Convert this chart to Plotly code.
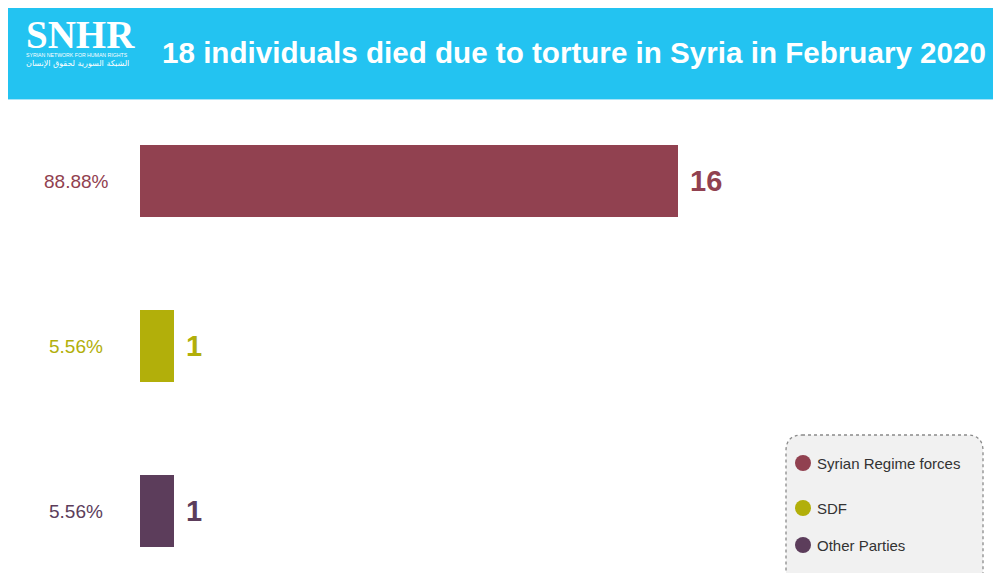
import plotly.graph_objects as go

W, H = 1001, 573
OFF = 8  # page body margin offset

categories = ["Syrian Regime forces", "SDF", "Other Parties"]
values = [16, 1, 1]
percent_labels = ["88.88%", "5.56%", "5.56%"]
colors = ["#914150", "#B2AF0A", "#5C3D5B"]
title_text = "18 individuals died due to torture in Syria in February 2020"
logo_lines = ["SNHR", "SYRIAN NETWORK FOR HUMAN RIGHTS", "الشبكة السورية لحقوق الإنسان"]

def px(x):
    return max(x - OFF, 0) / W

def py(y):
    return 1 - max(y - OFF, 0) / H

fig = go.Figure()
fig.add_trace(go.Bar(
    y=categories, x=values, orientation="h",
    marker=dict(color=colors, line=dict(width=0)),
    width=0.436, showlegend=False, hoverinfo="x+y",
))

annotations = []
for cat, v, p, c in zip(categories, values, percent_labels, colors):
    annotations.append(dict(x=v, y=cat, xref="x", yref="y", text=str(v),
                            showarrow=False, xanchor="left", xshift=10,
                            font=dict(family="Liberation Sans", size=29, color=c, weight="bold")))
    annotations.append(dict(x=px(76), y=cat, xref="paper", yref="y", text=p,
                            showarrow=False, xanchor="center",
                            font=dict(family="Liberation Sans", size=19, color=c)))

# title & logo
annotations.append(dict(x=px(160), y=py(52), xref="paper", yref="paper", text=title_text,
                        showarrow=False, xanchor="left", yanchor="middle",
                        font=dict(family="Liberation Sans", size=29.6, color="white", weight="bold")))
logo_html = (
    f"<span style='font-family:Liberation Serif;font-size:39px;font-weight:bold'>{logo_lines[0]}</span><br>"
    f"<span style='font-size:5.2px'>{logo_lines[1]}</span><br>"
    f"<span style='font-family:DejaVu Sans;font-size:8px'>{logo_lines[2]}</span>"
)
annotations.append(dict(x=px(24), y=py(71), xref="paper", yref="paper", text=logo_html,
                        showarrow=False, xanchor="left", yanchor="bottom", align="left",
                        font=dict(family="Liberation Sans", size=7, color="white")))

# legend texts
leg_y = [463, 508, 545]
for cat, c, ly in zip(categories, colors, leg_y):
    annotations.append(dict(x=px(815), y=py(ly), xref="paper", yref="paper", text=cat,
                            showarrow=False, xanchor="left", yanchor="middle",
                            font=dict(family="Liberation Sans", size=15, color="#333333")))

shapes = []
# header band
shapes.append(dict(type="rect", xref="paper", yref="paper", x0=px(7), x1=1,
                   y0=py(99), y1=py(5), fillcolor="#23C3F1", line=dict(width=0), layer="below"))
shapes.append(dict(type="line", xref="paper", yref="paper", x0=px(7), x1=1,
                   y0=py(99.5), y1=py(99.5), line=dict(color="#A8E4F8", width=1)))

# legend rounded dashed box
x0, x1, y0, y1, r = 786, 983, 435, 590, 16
def P(x, y):
    return f"{px(x):.5f},{py(y):.5f}"
path = (f"M {P(x0 + r, y0)} L {P(x1 - r, y0)} Q {P(x1, y0)} {P(x1, y0 + r)} "
        f"L {P(x1, y1 - r)} Q {P(x1, y1)} {P(x1 - r, y1)} L {P(x0 + r, y1)} "
        f"Q {P(x0, y1)} {P(x0, y1 - r)} L {P(x0, y0 + r)} Q {P(x0, y0)} {P(x0 + r, y0)} Z")
shapes.append(dict(type="path", xref="paper", yref="paper", path=path,
                   fillcolor="#F1F1F1", line=dict(color="#8A8A8A", width=1.3, dash="dot"),
                   layer="below"))
for c, ly in zip(colors, leg_y):
    rr = 8
    shapes.append(dict(type="circle", xref="paper", yref="paper",
                       x0=px(803 - rr), x1=px(803 + rr), y0=py(ly + rr), y1=py(ly - rr),
                       fillcolor=c, line=dict(width=0)))

fig.update_layout(
    width=W, height=H,
    margin=dict(l=0, r=0, t=0, b=0),
    paper_bgcolor="white", plot_bgcolor="rgba(0,0,0,0)",
    xaxis=dict(domain=[px(140), px(745)], range=[0, 18], visible=False, fixedrange=True),
    yaxis=dict(domain=[py(560), py(110)], range=[2.297, -0.4303], visible=False,
               type="category", categoryorder="array", categoryarray=categories),
    annotations=annotations,
    shapes=shapes,
    bargap=0,
)

fig.write_html("out.html")
